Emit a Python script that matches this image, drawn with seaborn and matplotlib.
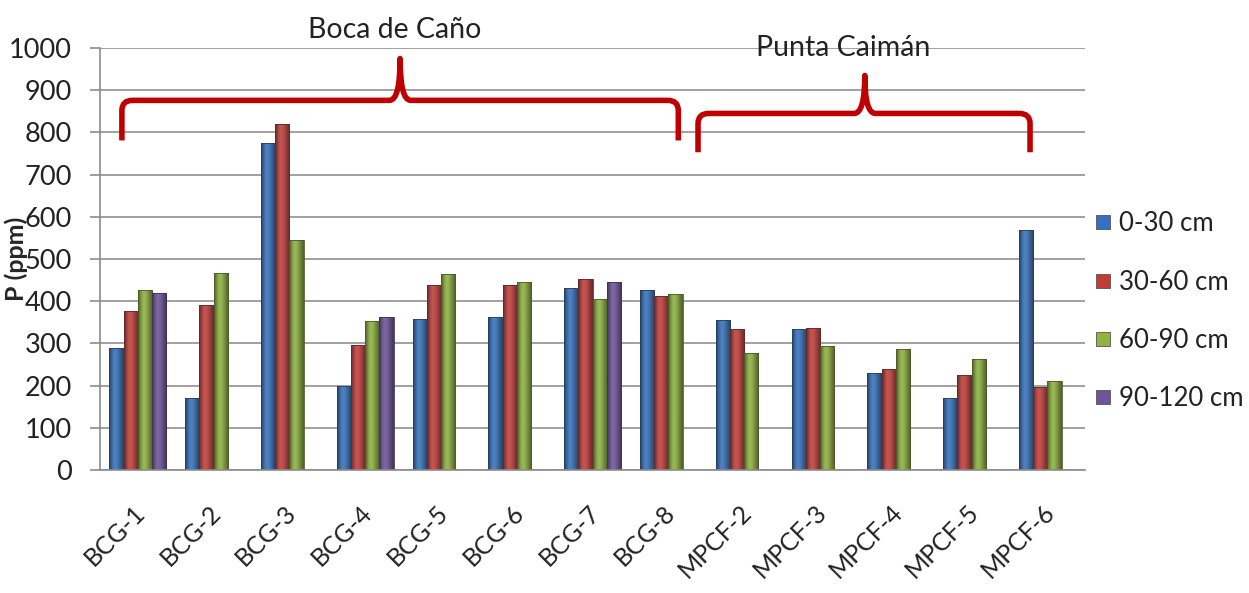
import numpy as np
import pandas as pd
import matplotlib
matplotlib.use("Agg")
import matplotlib.pyplot as plt
from matplotlib.path import Path
from matplotlib.patches import PathPatch, Rectangle
from matplotlib.lines import Line2D
from matplotlib.colors import to_rgb
from matplotlib.transforms import ScaledTranslation
import seaborn as sns

sites = ["BCG-1", "BCG-2", "BCG-3", "BCG-4", "BCG-5", "BCG-6", "BCG-7", "BCG-8",
         "MPCF-2", "MPCF-3", "MPCF-4", "MPCF-5", "MPCF-6"]
depths = ["0-30 cm", "30-60 cm", "60-90 cm", "90-120 cm"]

p_0_30 = [288, 171, 775, 199, 358, 362, 431, 427, 355, 333, 231, 170, 568]
p_30_60 = [376, 391, 820, 297, 438, 438, 453, 413, 333, 336, 239, 225, 197]
p_60_90 = [427, 467, 544, 352, 465, 445, 405, 416, 278, 293, 286, 264, 210]
p_90_120 = [420, np.nan, np.nan, 362, np.nan, np.nan, 446, np.nan,
            np.nan, np.nan, np.nan, np.nan, np.nan]

colors = ["#3272c0", "#c63a36", "#8fb53c", "#6f539e"]

df = pd.DataFrame({
    "site": sites * 4,
    "depth": np.repeat(depths, len(sites)),
    "P": p_0_30 + p_30_60 + p_60_90 + p_90_120,
})

sns.set_theme(style="white")
plt.rcParams["font.family"] = ["Lato", "DejaVu Sans"]

fig = plt.figure(figsize=(12.49, 5.93), dpi=100)
ax = fig.add_axes([0.080, 0.2074, 0.789, 0.7116])

sns.barplot(data=df, x="site", y="P", hue="depth", hue_order=depths,
            palette=colors, width=0.75, gap=0, ax=ax, legend=False,
            edgecolor="none", linewidth=0, errorbar=None)

# Shade each bar with a horizontal gradient for a cylindrical look
profile = np.array([0.62, 0.78, 0.95, 1.08, 1.12, 1.08, 1.0, 0.9, 0.8, 0.7, 0.6])
for bar in list(ax.patches):
    if not isinstance(bar, Rectangle):
        continue
    h = bar.get_height()
    if not np.isfinite(h) or h <= 0:
        continue
    base = np.array(to_rgb(bar.get_facecolor()))
    img = np.clip(base[None, None, :] * profile[None, :, None], 0, 1)
    x0, w = bar.get_x(), bar.get_width()
    im = ax.imshow(img, extent=[x0, x0 + w, 0, h], aspect="auto",
                   interpolation="bicubic", zorder=bar.get_zorder() + 0.1)
    im.set_clip_path(bar)
    ax.add_patch(Rectangle((x0, 0), w, h, facecolor="none",
                           edgecolor=tuple(base * 0.55), linewidth=0.6,
                           zorder=bar.get_zorder() + 0.2))

ax.set_ylim(0, 1000)
ax.set_xlim(-0.5, len(sites) - 0.5)
ax.set_yticks(np.arange(0, 1001, 100))
ax.yaxis.grid(True, color="#9a9a9a", linewidth=1.3)
ax.set_axisbelow(True)
for s in ["top", "right"]:
    ax.spines[s].set_visible(False)
for s in ["left", "bottom"]:
    ax.spines[s].set_color("#8c8c8c")
    ax.spines[s].set_linewidth(1.2)
ax.tick_params(axis="y", which="major", left=True, length=7, width=1.2,
               color="#8c8c8c", labelsize=19.5, labelcolor="#222222", pad=13)
ax.tick_params(axis="x", bottom=False, labelsize=18, labelcolor="#222222", pad=16)
shift = ScaledTranslation(-5 / 100, 0, fig.dpi_scale_trans)
for lbl in ax.get_xticklabels():
    lbl.set_rotation(45)
    lbl.set_ha("right")
    lbl.set_va("top")
    lbl.set_rotation_mode("anchor")
    lbl.set_transform(lbl.get_transform() + shift)
ax.set_xlabel("")
ax.set_ylabel("P (ppm)", fontsize=18, fontweight="bold")
ax.yaxis.set_label_coords(-0.073, 0.50)


def brace(x0, x1, xm, y_tip, y_bar, y_peak, rx=0.14, ry=24):
    verts = [
        (x0, y_tip), (x0, y_bar - ry),
        (x0, y_bar), (x0 + rx, y_bar),
        (xm - rx, y_bar),
        (xm, y_bar), (xm, y_peak),
        (xm, y_bar), (xm + rx, y_bar),
        (x1 - rx, y_bar),
        (x1, y_bar), (x1, y_bar - ry),
        (x1, y_tip),
    ]
    codes = [Path.MOVETO, Path.LINETO,
             Path.CURVE3, Path.CURVE3,
             Path.LINETO,
             Path.CURVE3, Path.CURVE3,
             Path.CURVE3, Path.CURVE3,
             Path.LINETO,
             Path.CURVE3, Path.CURVE3,
             Path.LINETO]
    patch = PathPatch(Path(verts, codes), facecolor="none", edgecolor="#c00000",
                      linewidth=4, clip_on=False, capstyle="butt", joinstyle="round",
                      zorder=5)
    ax.add_patch(patch)


brace(-0.21, 7.13, 3.46, 781, 876, 975)
brace(7.39, 11.77, 9.59, 753, 845, 935)

ax.text(3.39, 1042, "Boca de Caño", ha="center", va="center", fontsize=20.5,
        color="#222222", clip_on=False)
ax.text(9.3, 999, "Punta Caimán", ha="center", va="center", fontsize=20.5,
        color="#222222", clip_on=False)

handles = [Line2D([0], [0], marker="s", linestyle="none", markersize=10.5,
                  markerfacecolor=c, markeredgecolor="#555555", markeredgewidth=0.6)
           for c in colors]
fig.legend(handles, depths, loc="center left", bbox_to_anchor=(0.876, 0.475),
           frameon=False, fontsize=18.5, labelspacing=1.30, handletextpad=0.25,
           handlelength=0.7, borderpad=0, borderaxespad=0, labelcolor="#222222")

fig.savefig("out.png", dpi=100)
